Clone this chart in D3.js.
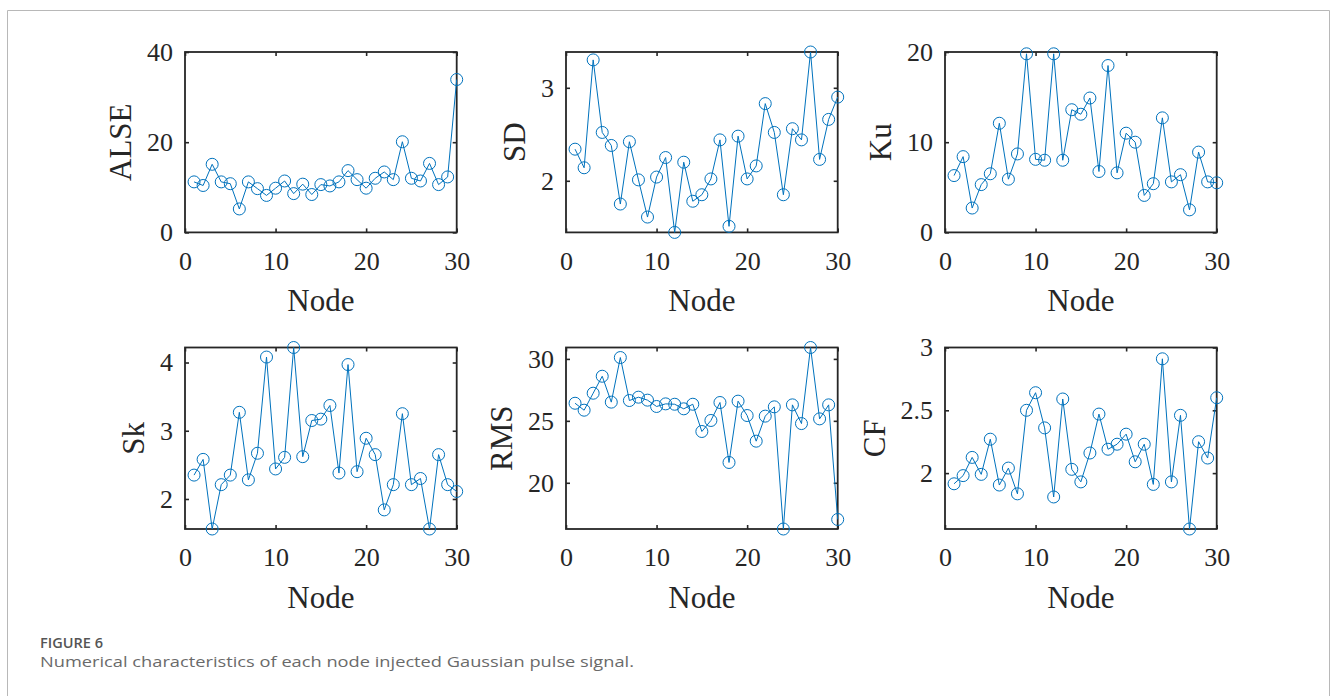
<!DOCTYPE html>
<html>
<head>
<meta charset="utf-8">
<script src="https://cdn.jsdelivr.net/npm/d3@7"></script>
<style>
  body { margin: 0; background: #fff; }
  svg { display: block; }
</style>
</head>
<body>
<script>
// Node index shared by all six panels
const nodes = [1, 2, 3, 4, 5, 6, 7, 8, 9, 10, 11, 12, 13, 14, 15, 16, 17, 18, 19, 20, 21, 22, 23, 24, 25, 26, 27, 28, 29, 30];

// Numerical characteristics per node
const alse = [11.2, 10.4, 15.1, 11.2, 10.8, 5.2, 11.2, 9.7, 8.2, 9.8, 11.4, 8.6, 10.7, 8.4, 10.6, 10.3, 11.2, 13.7, 11.7, 9.8, 12.0, 13.4, 11.7, 20.1, 12.0, 11.4, 15.3, 10.6, 12.3, 33.9];
const sd   = [2.34, 2.14, 3.30, 2.52, 2.38, 1.75, 2.42, 2.01, 1.61, 2.04, 2.25, 1.445, 2.20, 1.78, 1.85, 2.02, 2.44, 1.51, 2.48, 2.02, 2.16, 2.83, 2.52, 1.85, 2.56, 2.44, 3.385, 2.23, 2.66, 2.90];
const ku   = [6.3, 8.4, 2.7, 5.3, 6.5, 12.1, 5.9, 8.7, 19.8, 8.1, 8.0, 19.8, 8.0, 13.6, 13.1, 14.9, 6.75, 18.5, 6.6, 11.0, 10.0, 4.1, 5.4, 12.7, 5.6, 6.4, 2.5, 8.9, 5.6, 5.5];
const sk   = [2.35, 2.58, 1.56, 2.21, 2.35, 3.27, 2.28, 2.67, 4.08, 2.44, 2.61, 4.22, 2.62, 3.15, 3.17, 3.37, 2.38, 3.97, 2.40, 2.89, 2.65, 1.84, 2.21, 3.25, 2.21, 2.30, 1.56, 2.65, 2.21, 2.11];
const rms  = [26.42, 25.86, 27.23, 28.60, 26.51, 30.11, 26.64, 26.91, 26.67, 26.16, 26.37, 26.34, 25.97, 26.34, 24.14, 25.03, 26.48, 21.64, 26.59, 25.43, 23.36, 25.38, 26.13, 16.27, 26.29, 24.78, 30.92, 25.16, 26.29, 17.04];
const cf   = [1.915, 1.98, 2.125, 1.99, 2.27, 1.905, 2.04, 1.835, 2.50, 2.64, 2.36, 1.81, 2.59, 2.03, 1.93, 2.16, 2.47, 2.19, 2.23, 2.31, 2.09, 2.23, 1.91, 2.91, 1.93, 2.46, 1.555, 2.25, 2.12, 2.60];

// Axis ticks and limits (null = fit to the data)
const xTicks = [0, 10, 20, 30];
const xLimits = [0, 30];
const alseTicks = [0, 20, 40];   const alseLimits = [0, 40];
const sdTicks   = [2, 3];        const sdLimits   = [null, null];
const kuTicks   = [0, 10, 20];   const kuLimits   = [0, 20];
const skTicks   = [2, 3, 4];     const skLimits   = [null, null];
const rmsTicks  = [20, 25, 30];  const rmsLimits  = [null, null];
const cfTicks   = [2, 2.5, 3];   const cfLimits   = [null, 3];

const xLabel = "Node";
const figureTag = "FIGURE 6";
const figureCaption = "Numerical characteristics of each node injected Gaussian pulse signal.";

const panels = [
  { label: "ALSE", values: alse, ticks: alseTicks, limits: alseLimits },
  { label: "SD",   values: sd,   ticks: sdTicks,   limits: sdLimits },
  { label: "Ku",   values: ku,   ticks: kuTicks,   limits: kuLimits },
  { label: "Sk",   values: sk,   ticks: skTicks,   limits: skLimits },
  { label: "RMS",  values: rms,  ticks: rmsTicks,  limits: rmsLimits },
  { label: "CF",   values: cf,   ticks: cfTicks,   limits: cfLimits }
];

const W = 1331, H = 696;
const colX = [185, 566, 945];
const rowY = [52, 347.5];
const plotW = 271.7;
const plotH = [180.4, 181.5];
const ink = "#262626";
const blue = "#0072BD";
const serif = "'Liberation Serif', 'Times New Roman', serif";

const svg = d3.select("body").append("svg")
  .attr("width", W).attr("height", H);

// Light frame around the figure
svg.append("path")
  .attr("d", `M7.5,${H} V10.5 H1329.5 V${H}`)
  .attr("fill", "none").attr("stroke", "#b8b8b8").attr("stroke-width", 1);

panels.forEach((p, i) => {
  const col = i % 3, row = Math.floor(i / 3);
  const w = plotW, h = plotH[row];
  const g = svg.append("g").attr("transform", `translate(${colX[col]},${rowY[row]})`);

  const ext = d3.extent(p.values);
  const yDom = [p.limits[0] == null ? ext[0] : p.limits[0], p.limits[1] == null ? ext[1] : p.limits[1]];
  const x = d3.scaleLinear().domain(xLimits).range([0, w]);
  const y = d3.scaleLinear().domain(yDom).range([h, 0]);
  const fmt = d3.format("~g");

  // Inward ticks on all four sides
  const ax = [
    g.append("g").attr("transform", `translate(0,${h})`)
      .call(d3.axisBottom(x).tickValues(xTicks).tickFormat(fmt).tickSizeInner(-4).tickSizeOuter(0).tickPadding(19)),
    g.append("g")
      .call(d3.axisTop(x).tickValues(xTicks).tickFormat("").tickSizeInner(-4).tickSizeOuter(0)),
    g.append("g")
      .call(d3.axisLeft(y).tickValues(p.ticks).tickFormat(fmt).tickSizeInner(-4).tickSizeOuter(0).tickPadding(12)),
    g.append("g").attr("transform", `translate(${w},0)`)
      .call(d3.axisRight(y).tickValues(p.ticks).tickFormat("").tickSizeInner(-4).tickSizeOuter(0))
  ];
  ax.forEach(a => {
    a.select(".domain").remove();
    a.selectAll(".tick line").attr("stroke", ink).attr("stroke-width", 1.6);
    a.selectAll(".tick text")
      .attr("fill", ink).style("font-family", serif).style("font-size", "26px");
  });

  g.append("rect")
    .attr("width", w).attr("height", h)
    .attr("fill", "none").attr("stroke", ink).attr("stroke-width", 1.8);

  // Series line with open circle markers
  const line = d3.line().x((d, k) => x(nodes[k])).y(d => y(d));
  g.append("path").datum(p.values)
    .attr("d", line).attr("fill", "none").attr("stroke", blue).attr("stroke-width", 1);
  g.selectAll("circle.mk").data(p.values).join("circle")
    .attr("class", "mk")
    .attr("cx", (d, k) => x(nodes[k])).attr("cy", d => y(d)).attr("r", 6)
    .attr("fill", "none").attr("stroke", blue).attr("stroke-width", 1);

  // Axis titles
  g.append("text")
    .attr("x", w / 2).attr("y", h + 79)
    .attr("text-anchor", "middle").attr("fill", ink)
    .style("font-family", serif).style("font-size", "31px")
    .text(xLabel);

  let maxW = 0;
  ax[2].selectAll(".tick text").each(function () { maxW = Math.max(maxW, this.getBBox().width); });
  g.append("text")
    .attr("transform", `translate(${-12 - maxW - 16},${h / 2}) rotate(-90)`)
    .attr("text-anchor", "middle").attr("fill", ink)
    .style("font-family", serif).style("font-size", "31px")
    .text(p.label);
});

// Caption
svg.append("text")
  .attr("x", 40).attr("y", 648)
  .attr("fill", "#555").style("font-family", "'Open Sans', sans-serif")
  .style("font-size", "13.5px").style("font-weight", 600)
  .attr("textLength", 63).attr("lengthAdjust", "spacingAndGlyphs")
  .text(figureTag);
svg.append("text")
  .attr("x", 40).attr("y", 666.5)
  .attr("fill", "#6a6a6a").style("font-family", "'Open Sans', sans-serif")
  .style("font-size", "15px")
  .attr("textLength", 594).attr("lengthAdjust", "spacingAndGlyphs")
  .text(figureCaption);
</script>
</body>
</html>
